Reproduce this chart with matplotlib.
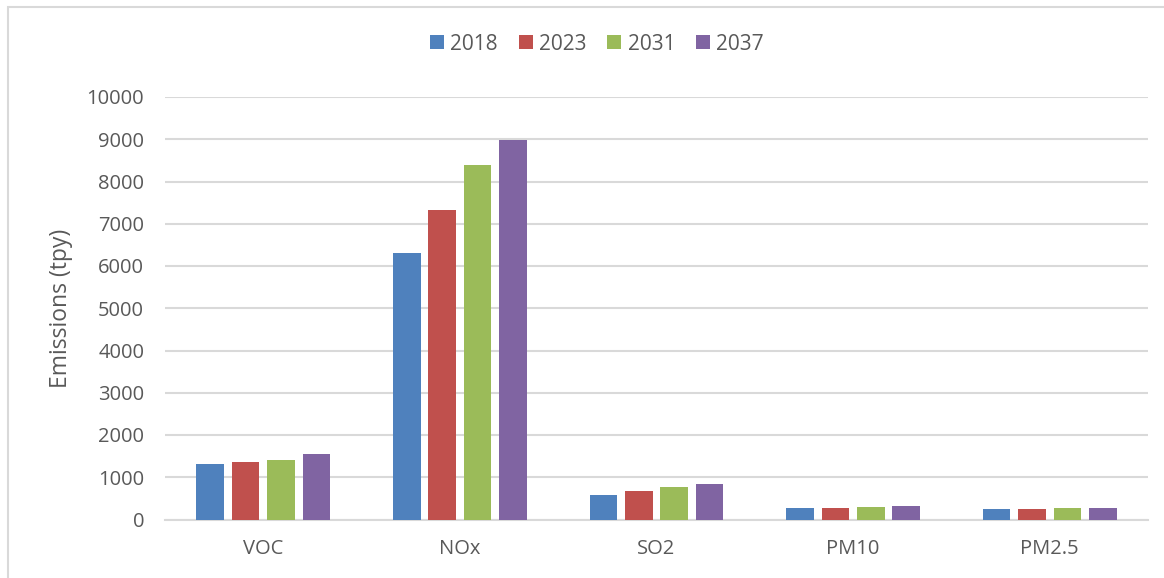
import matplotlib.pyplot as plt
import matplotlib.patches as patches
import numpy as np

# ---- data ----
categories = ["VOC", "NOx", "SO2", "PM10", "PM2.5"]
years = ["2018", "2023", "2031", "2037"]
v2018 = [1305, 6300, 590, 284, 253]
v2023 = [1353, 7330, 669, 284, 253]
v2031 = [1409, 8400, 764, 300, 267]
v2037 = [1546, 8980, 844, 315, 284]
colors = ["#4F81BD", "#C0504D", "#9BBB59", "#8064A2"]

plt.rcParams['font.family'] = ['Open Sans', 'DejaVu Sans']
text_col = "#595959"

W, H = 1164, 578
fig = plt.figure(figsize=(W / 100, H / 100), dpi=100)
ax = fig.add_axes([165 / W, 1 - 519.5 / H, 983 / W, (519.5 - 97) / H])

x = np.arange(len(categories))
pitch = 0.18
width = 0.14
series = [v2018, v2023, v2031, v2037]
for i, vals in enumerate(series):
    ax.bar(x + (i - 1.5) * pitch, vals, width, color=colors[i], label=years[i], zorder=3)

ax.set_xlim(-0.5, len(categories) - 0.5)
ax.set_ylim(0, 10000)
ax.set_yticks(np.arange(0, 10001, 1000))
ax.set_xticks(x)
ax.set_xticklabels(categories)
ax.yaxis.grid(True, color="#D9D9D9", linewidth=1.5, zorder=0)
ax.tick_params(axis='both', length=0, labelsize=14.5, labelcolor=text_col)
ax.tick_params(axis='y', pad=15)
ax.tick_params(axis='x', pad=14)
for s in ["left", "right", "top"]:
    ax.spines[s].set_visible(False)
ax.spines["bottom"].set_color("#D9D9D9")
ax.spines["bottom"].set_linewidth(1.5)
ax.set_ylabel("Emissions (tpy)", fontsize=16.5, color=text_col, labelpad=10)

fig.legend(loc="center", bbox_to_anchor=(597 / W, 1 - 44 / H), ncol=4, frameon=False,
           fontsize=15, labelcolor=text_col, handlelength=0.67, handleheight=0.67,
           handletextpad=0.3, columnspacing=1.0)

fig.patches.append(patches.Rectangle((7.5 / W, -0.01), 1.1, 1 - 6.5 / H + 0.01, transform=fig.transFigure,
                                     fill=False, edgecolor="#D9D9D9", linewidth=1.5))

fig.savefig("out.png", dpi=100)
